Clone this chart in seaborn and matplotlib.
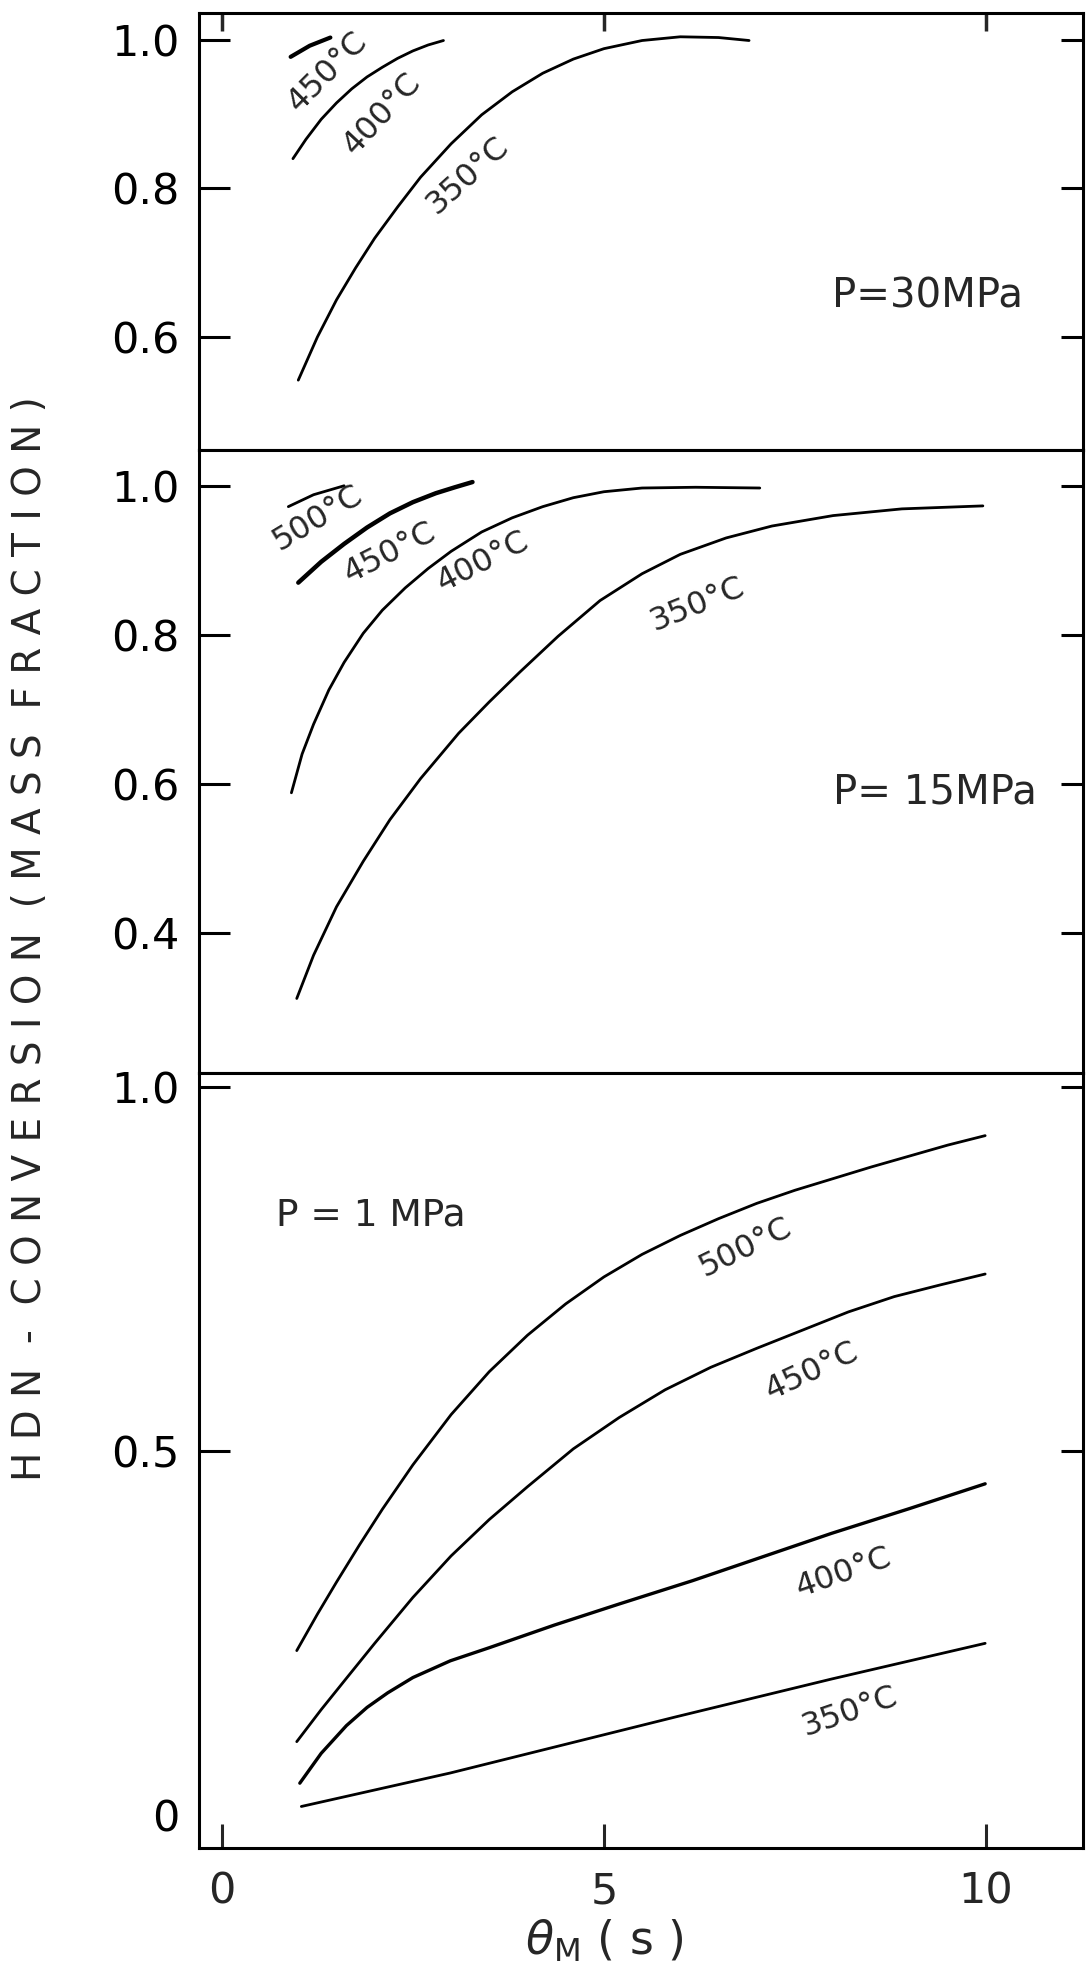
import matplotlib
matplotlib.use("Agg")
import matplotlib.pyplot as plt
import seaborn as sns

# residence time theta_M (s) and HDN conversion

# P = 30 MPa
t30_350 = [1.0, 1.25, 1.5, 1.75, 2.0, 2.3, 2.6, 3.0, 3.4, 3.8, 4.2, 4.6, 5.0, 5.5, 6.0, 6.5, 6.9]
y30_350 = [0.542, 0.600, 0.650, 0.693, 0.733, 0.775, 0.815, 0.860, 0.899, 0.930, 0.955,
           0.974, 0.988, 0.999, 1.004, 1.003, 0.999]
t30_400 = [0.93, 1.1, 1.3, 1.5, 1.7, 1.9, 2.1, 2.3, 2.5, 2.7, 2.9]
y30_400 = [0.840, 0.866, 0.893, 0.915, 0.934, 0.950, 0.963, 0.975, 0.985, 0.993, 0.999]
t30_450 = [0.9, 1.15, 1.42]
y30_450 = [0.977, 0.992, 1.003]

# P = 15 MPa
t15_350 = [0.98, 1.2, 1.5, 1.85, 2.2, 2.6, 3.1, 3.5, 3.9, 4.4, 4.95, 5.5, 6.0, 6.6, 7.2,
           8.0, 8.9, 9.96]
y15_350 = [0.312, 0.370, 0.435, 0.496, 0.552, 0.607, 0.668, 0.710, 0.750, 0.798, 0.846,
           0.882, 0.908, 0.930, 0.946, 0.960, 0.969, 0.973]
t15_400 = [0.91, 1.05, 1.2, 1.4, 1.6, 1.85, 2.1, 2.4, 2.7, 3.0, 3.4, 3.8, 4.2, 4.6, 5.0,
           5.5, 6.2, 7.04]
y15_400 = [0.588, 0.640, 0.680, 0.726, 0.763, 0.802, 0.833, 0.863, 0.889, 0.912, 0.938,
           0.957, 0.972, 0.984, 0.992, 0.997, 0.998, 0.997]
t15_450 = [1.0, 1.3, 1.6, 1.9, 2.2, 2.5, 2.8, 3.05, 3.28]
y15_450 = [0.870, 0.898, 0.922, 0.944, 0.963, 0.978, 0.990, 0.998, 1.005]
t15_500 = [0.87, 1.2, 1.6]
y15_500 = [0.972, 0.988, 1.000]

# P = 1 MPa
t1_500 = [0.98, 1.25, 1.5, 1.8, 2.1, 2.5, 3.0, 3.5, 4.0, 4.5, 5.0, 5.5, 6.0, 6.5, 7.0,
          7.5, 8.0, 8.5, 9.0, 9.5, 9.99]
y1_500 = [0.226, 0.276, 0.320, 0.371, 0.420, 0.481, 0.550, 0.609, 0.659, 0.702, 0.739,
          0.770, 0.796, 0.819, 0.840, 0.858, 0.874, 0.890, 0.905, 0.920, 0.933]
t1_450 = [0.98, 1.3, 1.63, 2.0, 2.5, 3.0, 3.5, 4.0, 4.6, 5.2, 5.8, 6.4, 7.0, 7.6, 8.2,
          8.8, 9.4, 9.99]
y1_450 = [0.101, 0.145, 0.188, 0.236, 0.299, 0.356, 0.406, 0.451, 0.503, 0.546, 0.584,
          0.615, 0.641, 0.666, 0.691, 0.712, 0.728, 0.743]
t1_400 = [1.02, 1.3, 1.63, 1.9, 2.17, 2.5, 2.99, 3.5, 4.35, 5.2, 6.16, 7.0, 7.98, 9.0, 9.99]
y1_400 = [0.044, 0.085, 0.123, 0.148, 0.168, 0.189, 0.212, 0.230, 0.261, 0.290, 0.322,
          0.352, 0.387, 0.421, 0.455]
t1_350 = [1.04, 2.99, 5.94, 7.98, 9.99]
y1_350 = [0.012, 0.058, 0.135, 0.187, 0.236]

xticks = [0, 5, 10]
yticks_30 = [0.6, 0.8, 1.0]
yticks_15 = [0.4, 0.6, 0.8, 1.0]
yticks_1 = [0, 0.5, 1.0]
yticklabels_1 = ["0", "0.5", "1.0"]

sns.set_style("ticks")
plt.rcParams['font.family'] = ['DejaVu Sans']

fig = plt.figure(figsize=(10.86, 19.77), dpi=100)
left, width = 0.1832, 0.8140
ax_top = fig.add_axes([left, 0.77238, width, 0.22104])
ax_mid = fig.add_axes([left, 0.45726, width, 0.31512])
ax_bot = fig.add_axes([left, 0.06525, width, 0.39201])

panels = [
    (ax_top, [(t30_350, y30_350, 2.0), (t30_400, y30_400, 2.0), (t30_450, y30_450, 3.0)],
     (0.448, 1.036), yticks_30, [f"{v:.1f}" for v in yticks_30]),
    (ax_mid, [(t15_350, y15_350, 2.0), (t15_400, y15_400, 2.0), (t15_450, y15_450, 3.2),
              (t15_500, y15_500, 2.0)],
     (0.212, 1.048), yticks_15, [f"{v:.1f}" for v in yticks_15]),
    (ax_bot, [(t1_500, y1_500, 2.0), (t1_450, y1_450, 2.0), (t1_400, y1_400, 2.4),
              (t1_350, y1_350, 2.0)],
     (-0.045, 1.019), yticks_1, yticklabels_1),
]

for ax, curves, ylim, yt, ytl in panels:
    for t, y, lw in curves:
        sns.lineplot(x=t, y=y, ax=ax, color="black", linewidth=lw, estimator=None)
    ax.set_xlim(-0.3, 11.27)
    ax.set_ylim(*ylim)
    ax.set_yticks(yt)
    ax.set_yticklabels(ytl)
    ax.set_xlabel("")
    ax.set_ylabel("")
    for s in ax.spines.values():
        s.set_linewidth(2.2)
        s.set_color("black")
    ax.tick_params(axis='y', direction='in', left=True, right=True, length=22,
                   width=2.2, labelsize=31, pad=14, colors="black")
    for tk in ax.yaxis.get_major_ticks():
        tk.tick2line.set_markersize(16)

# x ticks: along the top of the upper panel, and the bottom of the lower panel
ax_top.set_xticks(xticks)
ax_top.tick_params(axis='x', direction='in', top=True, bottom=False,
                   labelbottom=False, length=13, width=2.5)
ax_mid.set_xticks(xticks)
ax_mid.tick_params(axis='x', top=False, bottom=False, labelbottom=False)
ax_bot.set_xticks(xticks)
ax_bot.tick_params(axis='x', direction='in', top=False, bottom=True,
                   length=17, width=2.2, labelsize=31, pad=16)
# no tick mark at zero on the lower panel, only the label
ax_bot.yaxis.get_major_ticks()[0].tick1line.set_visible(False)
ax_bot.yaxis.get_major_ticks()[0].tick2line.set_visible(False)

ax_bot.set_xlabel(r"$\theta_{\mathrm{M}}$ ( s )", fontsize=33)
ax_bot.xaxis.set_label_coords(0.459, -0.090)

# curve labels
lab = dict(ha="center", va="center", rotation_mode="anchor", fontsize=23)
ax_top.text(1.38, 0.957, "450°C", rotation=45, **lab)
ax_top.text(2.10, 0.900, "400°C", rotation=47, **lab)
ax_top.text(3.22, 0.817, "350°C", rotation=42, **lab)
ax_top.text(9.24, 0.655, "P=30MPa", ha="center", va="center", fontsize=29)

ax_mid.text(1.25, 0.957, "500°C", rotation=31, **lab)
ax_mid.text(2.20, 0.910, "450°C", rotation=27, **lab)
ax_mid.text(3.42, 0.898, "400°C", rotation=27, **lab)
ax_mid.text(6.23, 0.840, "350°C", rotation=22, **lab)
ax_mid.text(9.33, 0.588, "P= 15MPa", ha="center", va="center", fontsize=29)

ax_bot.text(6.85, 0.779, "500°C", rotation=26, **lab)
ax_bot.text(7.72, 0.609, "450°C", rotation=25, **lab)
ax_bot.text(8.14, 0.333, "400°C", rotation=19, **lab)
ax_bot.text(8.22, 0.142, "350°C", rotation=19, **lab)
ax_bot.text(1.95, 0.823, "P = 1 MPa", ha="center", va="center", fontsize=27)

# common y label, letters spaced out as in the original
fig.text(0.028, 0.525, "H D N  -  C O N V E R S I O N  ( M A S S  F R A C T I O N )",
         rotation=90, ha="center", va="center", fontsize=28)

fig.savefig("out.png", dpi=100)
